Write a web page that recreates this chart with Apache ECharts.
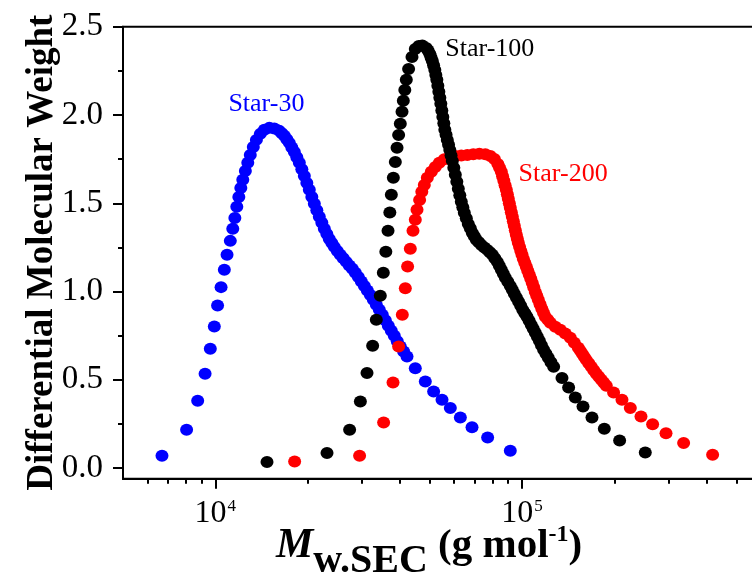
<!DOCTYPE html>
<html><head><meta charset="utf-8">
<script src="https://cdn.jsdelivr.net/npm/echarts@6/dist/echarts.min.js"></script>
<style>html,body{margin:0;padding:0;background:#fff}#c{width:752px;height:576px}</style>
</head><body><div id="c"></div>
<script>
// ---- data (Mw in g/mol, differential molecular weight) ----
const massStar30 = [6700,8060,8760,9260,9630,9925,10170,10440,10700,10920,11190,11400,11580,11750,11930,12110,12290,12530,12760,13000,13300,13610,14020,14450,15000,15570,16170,16480,16790,17110,17430,17760,18100,18440,18790,19150,19510,19880,20250,20640,21030,21430,21830,22250,22670,23100,23530,23980,24430,24980,25550,26130,26730,27340,27970,28610,29260,29930,30610,31310,32020,32750,33490,34250,35030,35830,36650,37480,38330,39200,40100,41120,42170,44880,48380,51500,54850,58380,62940,68710,77250,91580];
const dmwStar30 = [0.070,0.217,0.381,0.534,0.676,0.802,0.921,1.025,1.123,1.208,1.287,1.355,1.417,1.480,1.536,1.587,1.633,1.683,1.729,1.774,1.819,1.859,1.893,1.916,1.927,1.924,1.910,1.896,1.882,1.862,1.842,1.816,1.791,1.760,1.729,1.692,1.655,1.615,1.576,1.536,1.497,1.460,1.423,1.389,1.355,1.326,1.298,1.275,1.253,1.230,1.208,1.188,1.168,1.148,1.129,1.106,1.083,1.057,1.032,1.006,0.981,0.953,0.925,0.897,0.869,0.837,0.806,0.778,0.750,0.719,0.689,0.660,0.632,0.566,0.490,0.434,0.387,0.340,0.287,0.232,0.173,0.098];

const massStar100 = [14740,23130,27410,29710,31230,32580,33490,34510,35300,35970,36570,37070,37490,38060,38630,39130,39600,40100,40620,41020,41480,41950,42680,43780,44880,46070,47300,48750,49400,50050,50520,51000,51480,51970,52360,52760,53160,53560,53960,54360,54770,55190,55600,56020,56540,57070,57610,58160,58710,59260,59930,60610,61300,61990,62690,63400,64120,64840,65820,66810,67830,68870,69910,70960,72310,73690,75370,77090,78550,80040,81550,83090,84340,85620,86910,88230,89890,91580,92970,94380,95920,97480,99030,100600,102200,103800,105500,107200,108800,110500,112200,113900,115700,117600,119700,121800,124300,126800,135000,141900,149200,158100,169100,185500,208100,252300];
const dmwStar100 = [0.034,0.085,0.217,0.377,0.538,0.693,0.840,0.976,1.106,1.225,1.344,1.448,1.548,1.644,1.734,1.814,1.887,1.950,2.018,2.080,2.142,2.199,2.261,2.329,2.374,2.391,2.394,2.380,2.365,2.346,2.326,2.306,2.281,2.255,2.227,2.199,2.165,2.131,2.097,2.063,2.026,1.989,1.953,1.916,1.888,1.859,1.831,1.802,1.771,1.740,1.701,1.661,1.622,1.582,1.545,1.508,1.477,1.446,1.415,1.383,1.358,1.332,1.313,1.293,1.279,1.264,1.250,1.236,1.222,1.208,1.188,1.168,1.146,1.123,1.101,1.078,1.055,1.032,1.010,0.987,0.965,0.942,0.919,0.896,0.877,0.857,0.834,0.811,0.789,0.766,0.744,0.721,0.696,0.670,0.648,0.625,0.600,0.574,0.510,0.456,0.400,0.349,0.287,0.223,0.156,0.088];

const massStar200 = [18140,29540,35380,37970,39600,40710,41640,42360,43230,44110,44880,45460,46360,47130,48020,49120,50620,52160,53750,55810,57940,60610,63400,66320,69370,72590,75930,78830,81240,83400,84500,85620,86430,87250,88070,88890,89560,90230,90900,91580,92280,92990,93680,94380,95090,95810,96530,97260,98180,99110,100000,101000,102100,103300,104400,105600,106800,108000,109200,110500,111700,113000,114500,116000,117500,119100,121400,123700,128400,133300,138400,143700,148100,152600,155000,157300,159600,162000,165100,168200,171400,174700,178000,181400,184800,188300,198900,211800,225500,244300,266600,294800,336500,418300];
const dmwStar200 = [0.037,0.070,0.258,0.485,0.689,0.868,1.018,1.142,1.242,1.344,1.406,1.463,1.519,1.565,1.604,1.644,1.678,1.706,1.729,1.749,1.760,1.768,1.771,1.774,1.777,1.780,1.777,1.768,1.751,1.723,1.701,1.678,1.653,1.627,1.602,1.576,1.551,1.525,1.500,1.474,1.449,1.423,1.398,1.372,1.347,1.321,1.299,1.276,1.253,1.230,1.208,1.185,1.163,1.140,1.118,1.095,1.072,1.049,1.024,0.998,0.976,0.953,0.928,0.902,0.880,0.857,0.840,0.823,0.800,0.783,0.763,0.738,0.710,0.681,0.664,0.647,0.630,0.613,0.594,0.574,0.554,0.534,0.517,0.500,0.483,0.466,0.428,0.387,0.340,0.292,0.249,0.198,0.142,0.075];

const seriesNames = ['Star-30', 'Star-100', 'Star-200'];
const yMajorTicks = [0, 0.5, 1.0, 1.5, 2.0, 2.5];
const yMinorTicks = [0.25, 0.75, 1.25, 1.75, 2.25];
const xLabelTicks = [1e4, 1e5];
const xMajorTicks = [1e4, 1e5, 1e6];
const xMinorTicks = [6000,7000,8000,9000,20000,30000,40000,50000,60000,70000,80000,90000,200000,300000,400000,500000,600000,700000,800000,900000];

// annotation anchors in data space [Mw, value]
const labelAnchorStar30 = [11030, 2.062];
const labelAnchorStar100 = [56230, 2.371];
const labelAnchorStar200 = [97480, 1.664];

const FONT = "'Liberation Serif','Times New Roman',serif";
const zip = (a, b) => a.map((v, i) => [v, b[i]]);

const chart = echarts.init(document.getElementById('c'), null, {renderer: 'canvas'});

function scatter(name, data, color, anchor) {
  return {
    name: name, type: 'scatter', xAxisIndex: 0, yAxisIndex: 0,
    symbol: 'circle', symbolSize: [13, 12],
    itemStyle: {color: color, opacity: 1},
    data: data,
    markPoint: {
      symbol: 'circle', symbolSize: 0, silent: true, animation: false,
      label: {show: true, position: 'right', distance: 0, formatter: name,
               color: color, fontSize: 26, fontFamily: FONT},
      data: [{coord: anchor}]
    }
  };
}

const tickLine = {color: '#000', width: 2};

const option = {
  animation: false,
  backgroundColor: '#fff',
  grid: {left: 123, top: 26.7, right: -76.7, bottom: 97.3, show: true,
         borderColor: '#000', borderWidth: 2, outerBoundsMode: 'none', containLabel: false},
  title: {
    left: 276, top: 524, padding: 0,
    text: '{m|M}{w|w.SEC}{p| (g mol}{e|-1}{p|)}',
    textStyle: {
      fontFamily: FONT, color: '#000',
      rich: {
        m: {fontFamily: FONT, fontSize: 42, fontStyle: 'italic', fontWeight: 'bold', color: '#000', lineHeight: 44},
        w: {fontFamily: FONT, fontSize: 40, fontWeight: 'bold', color: '#000', lineHeight: 44, padding: [32, 0, 0, 0]},
        p: {fontFamily: FONT, fontSize: 41, fontWeight: 'bold', color: '#000', lineHeight: 44},
        e: {fontFamily: FONT, fontSize: 24, fontWeight: 'bold', color: '#000', lineHeight: 44, padding: [0, 0, 22, 0]}
      }
    }
  },
  xAxis: [
    {type: 'log', logBase: 10, min: 5000, max: 1e6, position: 'bottom',
     axisLine: {show: true, onZero: false, lineStyle: {color: '#000', width: 2}},
     axisTick: {show: true, customValues: xMajorTicks, length: 10, inside: false, lineStyle: tickLine},
     axisLabel: {show: true, customValues: xLabelTicks, margin: 19, color: '#000',
       formatter: v => '{b|10}{s|' + Math.round(Math.log10(v)) + '}',
       rich: {b: {fontFamily: FONT, fontSize: 32, color: '#000'},
              s: {fontFamily: FONT, fontSize: 17, color: '#000', verticalAlign: 'top', padding: [0, 0, 0, 1]}}},
     splitLine: {show: false}, minorTick: {show: false}},
    {type: 'log', logBase: 10, min: 5000, max: 1e6, position: 'bottom',
     axisLine: {show: false, onZero: false},
     axisTick: {show: true, customValues: xMinorTicks, length: 5, inside: false, lineStyle: tickLine},
     axisLabel: {show: false}, splitLine: {show: false}}
  ],
  yAxis: [
    {type: 'value', min: -0.06, max: 2.5, position: 'left',
     name: 'Differential Molecular Weight', nameLocation: 'middle', nameGap: 62, nameRotate: 90,
     nameMoveOverlap: false,
     nameTextStyle: {fontFamily: FONT, fontSize: 37, fontWeight: 'bold', color: '#000'},
     axisLine: {show: true, onZero: false, lineStyle: {color: '#000', width: 2}},
     axisTick: {show: true, customValues: yMajorTicks, length: 10, inside: false, lineStyle: tickLine},
     axisLabel: {show: true, customValues: yMajorTicks, margin: 20, color: '#000',
       fontFamily: FONT, fontSize: 33, formatter: v => v.toFixed(1)},
     splitLine: {show: false}},
    {type: 'value', min: -0.06, max: 2.5, position: 'left',
     axisLine: {show: false, onZero: false},
     axisTick: {show: true, customValues: yMinorTicks, length: 5, inside: false, lineStyle: tickLine},
     axisLabel: {show: false}, splitLine: {show: false}}
  ],
  series: [
    scatter(seriesNames[0], zip(massStar30, dmwStar30), '#0000ff', labelAnchorStar30),
    scatter(seriesNames[2], zip(massStar200, dmwStar200), '#ff0000', labelAnchorStar200),
    scatter(seriesNames[1], zip(massStar100, dmwStar100), '#000000', labelAnchorStar100)
  ]
};
chart.setOption(option);
</script>
</body></html>
